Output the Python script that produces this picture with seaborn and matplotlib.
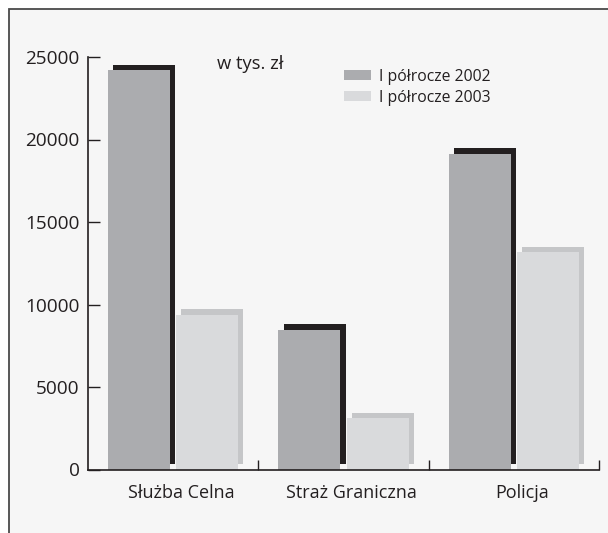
import matplotlib
matplotlib.use("Agg")
import matplotlib.pyplot as plt
import matplotlib.transforms as mtransforms
import seaborn as sns
import pandas as pd
from matplotlib.patches import Patch, Rectangle

categories = ["Służba Celna", "Straż Graniczna", "Policja"]
series_names = ["I półrocze 2002", "I półrocze 2003"]
values_2002 = [24200, 8460, 19130]
values_2003 = [9370, 3100, 13160]
yticks = [0, 5000, 10000, 15000, 20000, 25000]

front_colors = ["#abacaf", "#d9dadc"]
shadow_colors = ["#231f20", "#c5c6c8"]
text_color = "#231f20"

df = pd.DataFrame({
    "cat": categories * 2,
    "series": [series_names[0]] * 3 + [series_names[1]] * 3,
    "value": values_2002 + values_2003,
})

sns.set_theme(style="white")
plt.rcParams["font.family"] = ["Open Sans", "DejaVu Sans"]

W, H = 608, 533
fig = plt.figure(figsize=(W / 100, H / 100), dpi=100)
fig.patch.set_facecolor("white")

# background panel with frame (left and top edges visible)
bgax = fig.add_axes([0, 0, 1, 1], zorder=-10)
bgax.set_xlim(0, W)
bgax.set_ylim(H, 0)
bgax.axis("off")
bgax.add_patch(Rectangle((8.5, 8.5), W + 20, H + 20, facecolor="#f6f6f6",
                         edgecolor="#4a4a4a", linewidth=1.3))

ax = fig.add_axes([88 / W, (H - 469.5) / H, (599 - 88) / W, (469.5 - 57) / H], zorder=1)
ax.set_facecolor("none")

sns.barplot(data=df, x="cat", y="value", hue="series", order=categories,
            hue_order=series_names, palette=front_colors, width=0.8, gap=0.09,
            saturation=1, legend=False, ax=ax, zorder=3, linewidth=0,
            edgecolor="none", err_kws={"linewidth": 0})

# shadow rectangles behind each bar, shifted right and up
dx, dy = 0.03, 330
front = [p for p in ax.patches if isinstance(p, Rectangle)]
ref0 = matplotlib.colors.to_rgba(front_colors[0])
for p in front:
    fc = p.get_facecolor()
    idx = 0 if abs(fc[0] - ref0[0]) < 0.02 else 1
    sh = Rectangle((p.get_x() + dx, p.get_y() + dy), p.get_width(), p.get_height(),
                   facecolor=shadow_colors[idx], edgecolor="none", zorder=2)
    ax.add_patch(sh)

ax.set_xlim(-0.5, 2.5)
ax.set_ylim(0, 25000)
ax.set_xlabel("")
ax.set_ylabel("")

for s in ["top", "right"]:
    ax.spines[s].set_visible(False)
for s in ["left", "bottom"]:
    ax.spines[s].set_color(text_color)
    ax.spines[s].set_linewidth(1.2)
    ax.spines[s].set_zorder(5)

ax.set_yticks(yticks)
ax.set_yticklabels([str(v) for v in yticks])
ax.tick_params(axis="y", direction="in", length=8.6, width=1.0, color=text_color,
               pad=6.0, labelsize=13.7, labelcolor=text_color, left=True)

ax.set_xticks([0.5, 1.5, 2.5])
ax.set_xticklabels(["", "", ""])
ax.set_xticks([0, 1, 2], minor=True)
ax.set_xticklabels(categories, minor=True)
ax.tick_params(axis="x", which="major", direction="in", length=7.2, width=1.0,
               color=text_color, bottom=True)
ax.tick_params(axis="x", which="minor", length=0, pad=10.5, labelsize=13,
               labelcolor=text_color)
shift = mtransforms.ScaledTranslation(8 / 100, 0, fig.dpi_scale_trans)
for lab in ax.get_xticklabels(minor=True):
    lab.set_transform(lab.get_transform() + shift)

fig.text(250 / W, 1 - 64 / H, "w tys. zł", ha="center", va="center",
         fontsize=13.2, color=text_color)

handles = [Patch(facecolor=c, edgecolor="none") for c in front_colors]
fig.legend(handles, series_names, loc="upper left",
           bbox_to_anchor=(344 / W, 1 - 69 / H), frameon=False, fontsize=11.3,
           handlelength=1.75, handleheight=0.6, handletextpad=0.45,
           labelspacing=0.3, borderpad=0, borderaxespad=0, labelcolor=text_color)

fig.savefig("out.png", dpi=100, facecolor=fig.get_facecolor())
